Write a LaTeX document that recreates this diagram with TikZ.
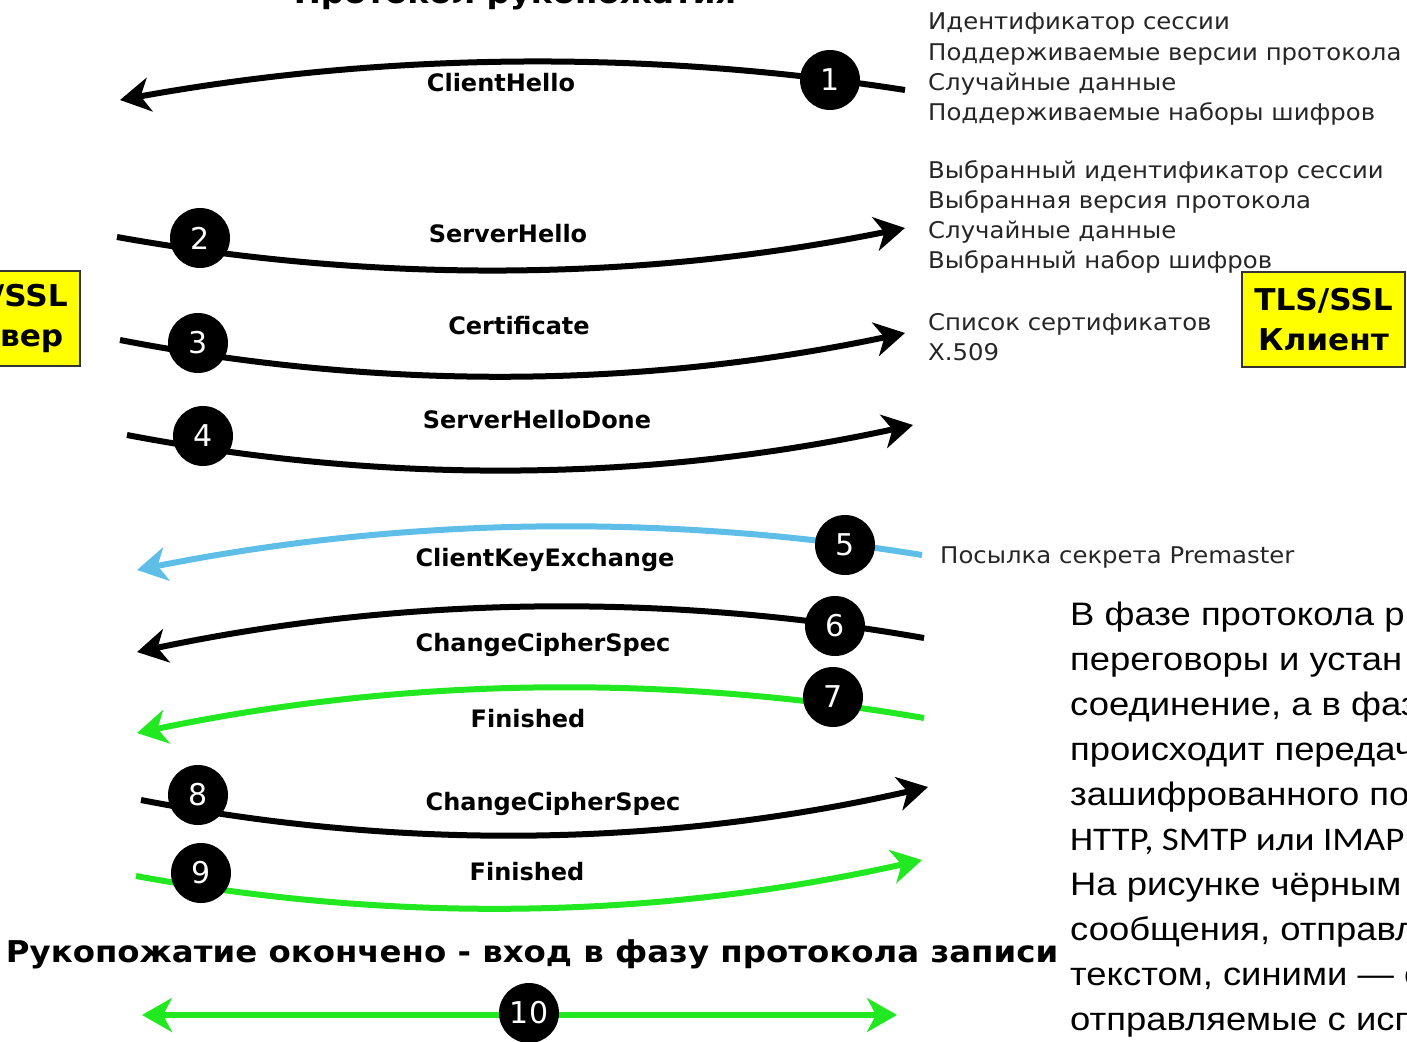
\documentclass[tikz,border=0pt]{standalone}
\usepackage{fontspec}
\setmainfont{DejaVu Sans}
\newfontfamily\parafont{Liberation Sans}
\newfontfamily\califont{Carlito}
\usetikzlibrary{arrows.meta}
\definecolor{msgblue}{RGB}{94,190,232}
\definecolor{msggreen}{RGB}{34,232,34}
\definecolor{boxyellow}{RGB}{255,255,0}
\newcommand{\wideinfo}[1]{\scalebox{1.06}[1]{#1}}
\newcommand{\widepara}[1]{\scalebox{1.12}[1]{#1}}
\newcommand{\widehead}[1]{\scalebox{1.08}[1]{#1}}
\begin{document}
\begin{tikzpicture}[x=1pt,y=-1pt,
  msg/.style={line width=6pt,-{Stealth[length=30pt,width=34pt,inset=9pt]}},
  dmsg/.style={line width=6pt,{Stealth[length=30pt,width=34pt,inset=9pt]}-{Stealth[length=30pt,width=34pt,inset=9pt]}},
  numdot/.style={circle,fill=black,minimum size=60pt,inner sep=0pt,text=white,font=\fontsize{30}{32}\selectfont},
  msglabel/.style={anchor=base,inner sep=0pt,font=\bfseries\fontsize{24}{28}\selectfont},
  infotext/.style={anchor=base west,inner sep=0pt,text=black!85,font=\fontsize{23}{26}\selectfont},
  headtext/.style={anchor=base,inner sep=0pt,font=\bfseries\fontsize{30}{34}\selectfont},
  partybox/.style={draw=black!80,line width=2pt,fill=boxyellow,minimum width=163pt,minimum height=95pt,align=center,font=\bfseries\fontsize{30}{40}\selectfont},
  paratext/.style={anchor=base west,inner sep=0pt,font=\parafont\fontsize{32.5}{36}\selectfont}
]
\useasboundingbox (0,0) rectangle (1407,1041);
\clip (0,0) rectangle (1407,1041);

% title and heading
\node[headtext] (title) at (515,4) {\widehead{Протокол рукопожатия}};
\node[headtext] (done) at (532,962) {\widehead{Рукопожатие окончено - вход в фазу протокола записи}};

% party boxes
\node[partybox] (server) at (-1.5,318.5) {\scalebox{1.04}[1]{TLS/SSL}\\\scalebox{1.04}[1]{Сервер}};
\node[partybox] (client) at (1323.5,319.5) {\scalebox{1.04}[1]{TLS/SSL}\\\scalebox{1.04}[1]{Клиент}};

% end points
\coordinate (a1) at (905,90);  \coordinate (b1) at (120,100);
\coordinate (a2) at (117,237); \coordinate (b2) at (905,228);
\coordinate (a3) at (120,340); \coordinate (b3) at (905,333);
\coordinate (a4) at (127,435); \coordinate (b4) at (913,425);
\coordinate (a5) at (922,555); \coordinate (b5) at (137,570);
\coordinate (a6) at (924,638); \coordinate (b6) at (137,652);
\coordinate (a7) at (924,718); \coordinate (b7) at (137,733);
\coordinate (a8) at (141,800); \coordinate (b8) at (928,787);
\coordinate (a9) at (136,876); \coordinate (b9) at (922,860);
\coordinate (a10) at (142,1015); \coordinate (b10) at (897,1015);

% connectors
\draw[msg] (a1) .. controls (643.3,49.3) and (381.7,52.7) .. (b1);
\draw[msg] (a2) .. controls (379.7,284) and (642.3,281) .. (b2);
\draw[msg] (a3) .. controls (381.7,390.7) and (643.3,388.3) .. (b3);
\draw[msg] (a4) .. controls (389,485) and (651,481.7) .. (b4);
\draw[msg,msgblue] (a5) .. controls (660.3,512.7) and (398.7,517.7) .. (b5);
\draw[msg] (a6) .. controls (661.7,592) and (399.3,596.7) .. (b6);
\draw[msg,msggreen] (a7) .. controls (661.7,673) and (399.3,678) .. (b7);
\draw[msg] (a8) .. controls (403.3,851) and (665.7,846.7) .. (b8);
\draw[msg,msggreen] (a9) .. controls (398,924) and (660,918.7) .. (b9);
\draw[dmsg,msggreen] (a10) -- (b10);

% numbered dots
\node[numdot] (n1) at (830,80) {1};
\node[numdot] (n2) at (200,238) {2};
\node[numdot] (n3) at (198,343) {3};
\node[numdot] (n4) at (203,436) {4};
\node[numdot] (n5) at (845,545) {5};
\node[numdot] (n6) at (835,626) {6};
\node[numdot] (n7) at (833,697) {7};
\node[numdot] (n8) at (198,795) {8};
\node[numdot] (n9) at (201,873) {9};
\node[numdot] (n10) at (529,1013) {10};

% message labels
\node[msglabel] (l1) at (501,91) {ClientHello};
\node[msglabel] (l2) at (508,242) {ServerHello};
\node[msglabel] (l3) at (519,334) {Certificate};
\node[msglabel] (l4) at (537,428) {ServerHelloDone};
\node[msglabel] (l5) at (545,566) {ClientKeyExchange};
\node[msglabel] (l6) at (543,651) {ChangeCipherSpec};
\node[msglabel] (l7) at (528,727) {Finished};
\node[msglabel] (l8) at (553,810) {ChangeCipherSpec};
\node[msglabel] (l9) at (527,880) {Finished};

% info texts
\node[infotext] (i11) at (928,30) {\wideinfo{Идентификатор сессии}};
\node[infotext] (i12) at (928,60) {\wideinfo{Поддерживаемые версии протокола}};
\node[infotext] (i13) at (928,90) {\wideinfo{Случайные данные}};
\node[infotext] (i14) at (928,120) {\wideinfo{Поддерживаемые наборы шифров}};
\node[infotext] (i21) at (928,178) {\wideinfo{Выбранный идентификатор сессии}};
\node[infotext] (i22) at (928,208) {\wideinfo{Выбранная версия протокола}};
\node[infotext] (i23) at (928,238) {\wideinfo{Случайные данные}};
\node[infotext] (i24) at (928,268) {\wideinfo{Выбранный набор шифров}};
\node[infotext] (i31) at (928,330) {\wideinfo{Список сертификатов}};
\node[infotext] (i32) at (928,360) {\wideinfo{X.509}};
\node[infotext] (i51) at (940,563) {\wideinfo{Посылка секрета Premaster}};

% paragraph
\node[paratext] (p1) at (1070,625) {\widepara{В фазе протокола р}};
\node[paratext] (p2) at (1070,670) {\widepara{переговоры и устан}};
\node[paratext] (p3) at (1070,715) {\widepara{соединение, а в фаз}};
\node[paratext] (p4) at (1070,760) {\widepara{происходит передач}};
\node[paratext] (p5) at (1070,805) {\widepara{зашифрованного по}};
\node[paratext,font=\califont\fontsize{33}{36}\selectfont] (p6) at (1070,850) {\widepara{HTTP, SMTP или IMAP}};
\node[paratext] (p7) at (1070,895) {\widepara{На рисунке чёрным}};
\node[paratext] (p8) at (1070,940) {\widepara{сообщения, отправл}};
\node[paratext] (p9) at (1070,985) {\widepara{текстом, синими — с}};
\node[paratext] (p10) at (1070,1030) {\widepara{отправляемые с исп}};
\end{tikzpicture}
\end{document}
